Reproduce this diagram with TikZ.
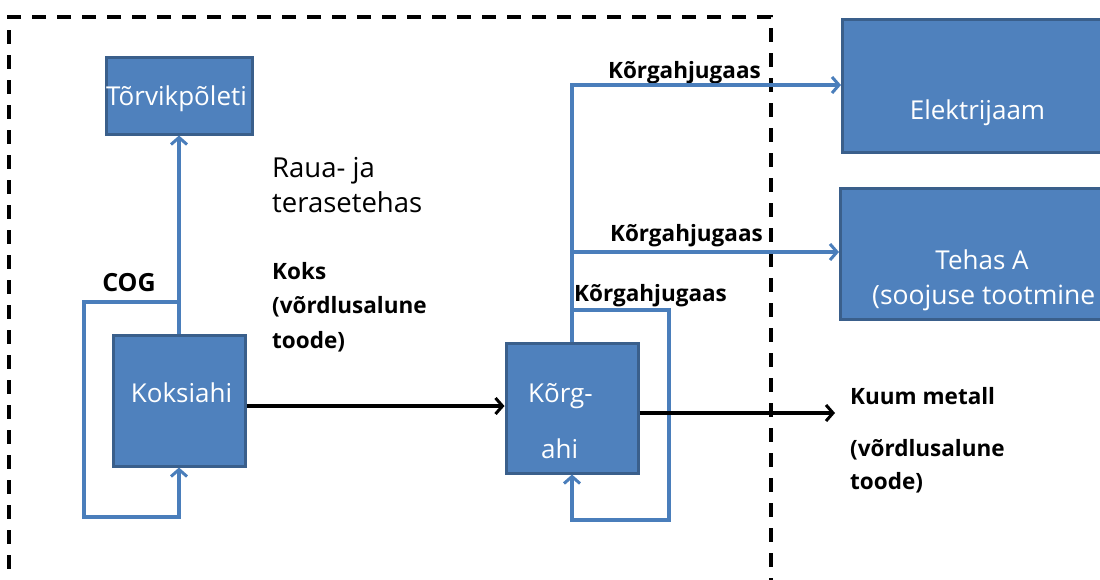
\documentclass[tikz,border=0pt]{standalone}
\usepackage{fontspec}
\setmainfont{Open Sans}
\usetikzlibrary{arrows.meta}
\definecolor{boxblue}{HTML}{4F81BD}
\definecolor{boxedge}{HTML}{3A5F8B}
\definecolor{flowblue}{HTML}{4A7EBB}
\tikzset{
  box/.style={draw=boxedge, fill=boxblue, line width=3pt, inner sep=0pt},
  wtext/.style={text=white, inner sep=0pt, anchor=base, font=\fontsize{26}{30}\selectfont},
  btext/.style={inner sep=0pt, anchor=base west, font=\bfseries\fontsize{22.5}{27}\selectfont},
  ntext/.style={inner sep=0pt, anchor=base west, font=\fontsize{27.5}{32}\selectfont},
  bflow/.style={draw=flowblue, line width=3.5pt},
  kflow/.style={draw=black, line width=3.5pt},
  btip/.style={-{Straight Barb[length=7pt,width=16pt,line width=3pt]}},
}
\begin{document}
\begin{tikzpicture}[x=1pt,y=-1pt]
\clip (0,0) rectangle (1100,579);
\fill[white] (0,0) rectangle (1100,579);

% plant boundary
\draw[line width=4pt, dash pattern=on 14pt off 11pt] (771,17) -- (9,17) -- (9,600);
\draw[line width=4pt, dash pattern=on 14pt off 11pt] (757,17) -- (771,17) -- (771,600);

% process boxes
\node[box, minimum width=146pt, minimum height=77pt] (torv) at (179,95.5) {};
\node[wtext] (torvt) at (176.5,105) {Tõrvikpõleti};
\node[box, minimum width=132pt, minimum height=131pt] (koks) at (179,400.5) {};
\node[wtext] (kokst) at (181.5,402) {Koksiahi};
\node[box, minimum width=132pt, minimum height=130pt] (korg) at (572,408) {};
\node[wtext, anchor=base west] (korgt1) at (528,402) {Kõrg-};
\node[wtext, anchor=base west] (korgt2) at (541,458) {ahi};
\node[box, anchor=north west, minimum width=290pt, minimum height=133pt] (elek) at (841,18) {};
\node[wtext] (elekt) at (977.5,119) {Elektrijaam};
\node[box, anchor=north west, minimum width=290pt, minimum height=131pt] (tehas) at (839,187) {};
\node[wtext] (tehast1) at (982,269) {Tehas A};
\node[wtext, anchor=base west, font=\fontsize{26.5}{30}\selectfont] (tehast2) at (872,304) {(soojuse tootmine};

% plain labels
\node[ntext] (raua1) at (272,177) {Raua- ja};
\node[ntext] (raua2) at (272,212) {terasetehas};
\node[btext] (koks1) at (272,279) {Koks};
\node[btext] (koks2) at (272,313.5) {(võrdlusalune};
\node[btext] (koks3) at (272,348) {toode)};
\node[btext, anchor=base, font=\bfseries\fontsize{25}{30}\selectfont] (cog) at (129,291) {COG};
\node[btext, anchor=base east] (kg1) at (761,78) {Kõrgahjugaas};
\node[btext, anchor=base east] (kg2) at (763,241) {Kõrgahjugaas};
\node[btext] (kg3) at (574,301) {Kõrgahjugaas};
\node[btext] (kuum1) at (850,404) {Kuum metall};
\node[btext] (kuum2) at (850,456) {(võrdlusalune};
\node[btext] (kuum3) at (850,489) {toode)};

% junctions and free ends
\coordinate (cogj) at (179,302);
\coordinate (g1) at (572,85);
\coordinate (g2) at (572,252);
\coordinate (gl) at (572,310);
\coordinate (r1) at (0,406);
\coordinate (r2) at (0,413);
\coordinate (hm) at (835,413);

% coke oven gas
\draw[bflow, btip] (koks.north) -- (torv.south);
\draw[bflow, btip] (cogj) -- (84,302) -- (84,517) -- (179,517) -- (koks.south);

% blast furnace gas
\draw[bflow, btip] (korg.north) |- (elek.west |- g1);
\draw[bflow, btip] (g2) -- (tehas.west |- g2);
\draw[bflow, btip] (gl) -- (669,310) -- (669,520) -- (572,520) -- (korg.south);

% coke and hot metal
\draw[kflow, btip] (koks.east |- r1) -- (korg.west |- r1);
\draw[kflow, btip] (korg.east |- r2) -- (hm);
\end{tikzpicture}
\end{document}
